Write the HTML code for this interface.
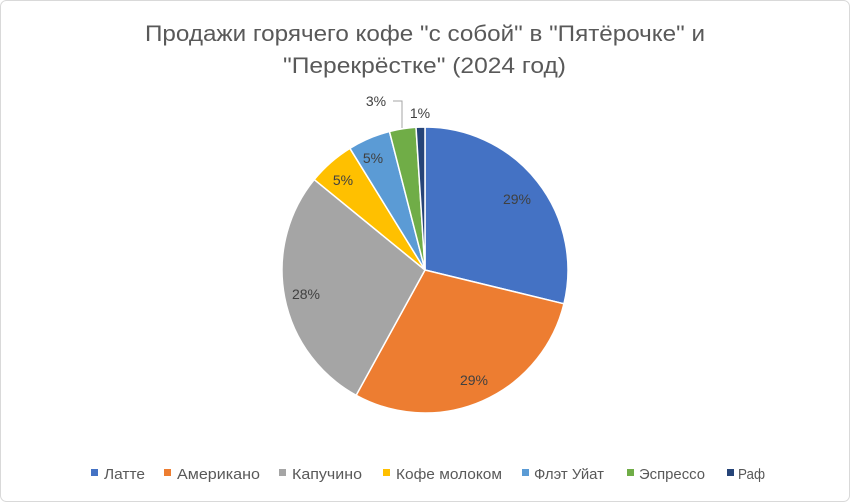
<!DOCTYPE html>
<html><head><meta charset="utf-8"><style>
body{margin:0;background:#fff;}
svg{display:block;font-family:"Liberation Sans","DejaVu Sans",sans-serif;}
</style></head><body>
<svg id="s" width="850" height="502" viewBox="0 0 850 502">
<rect x="0.5" y="0.5" width="849" height="501" rx="6" fill="#fff" stroke="#d9d9d9"/>
<text x="145" y="41" font-size="22" fill="#595959" textLength="560" lengthAdjust="spacingAndGlyphs">Продажи горячего кофе "с собой" в "Пятёрочке" и</text>
<text x="283" y="73" font-size="22" fill="#595959" textLength="283" lengthAdjust="spacingAndGlyphs">"Перекрёстке"  (2024 год)</text>
<g id="pie"></g>
<polyline points="393,101 402,101 402,128" fill="none" stroke="#a6a6a6" stroke-width="1"/>
<g font-size="14" fill="#404040" text-anchor="middle">
<text x="517" y="204">29%</text>
<text x="474" y="385">29%</text>
<text x="306" y="299">28%</text>
<text x="343" y="185">5%</text>
<text x="373" y="163">5%</text>
<text x="376" y="106">3%</text>
<text x="420" y="118">1%</text>
</g>
<g font-size="15" fill="#595959">
<rect x="91" y="469" width="7" height="7" fill="#4472C4"/><text x="104" y="479" textLength="41" lengthAdjust="spacingAndGlyphs">Латте</text>
<rect x="164" y="469" width="7" height="7" fill="#ED7D31"/><text x="177" y="479" textLength="83" lengthAdjust="spacingAndGlyphs">Американо</text>
<rect x="279" y="469" width="7" height="7" fill="#A5A5A5"/><text x="292" y="479" textLength="70" lengthAdjust="spacingAndGlyphs">Капучино</text>
<rect x="383" y="469" width="7" height="7" fill="#FFC000"/><text x="396" y="479" textLength="106" lengthAdjust="spacingAndGlyphs">Кофе молоком</text>
<rect x="522" y="469" width="7" height="7" fill="#5B9BD5"/><text x="534" y="479" textLength="70" lengthAdjust="spacingAndGlyphs">Флэт Уйат</text>
<rect x="627" y="469" width="7" height="7" fill="#70AD47"/><text x="639" y="479" textLength="66" lengthAdjust="spacingAndGlyphs">Эспрессо</text>
<rect x="727" y="469" width="7" height="7" fill="#264478"/><text x="738" y="479" textLength="27" lengthAdjust="spacingAndGlyphs">Раф</text>
</g>
</svg>
<script>
var v=[28.8,29.2,27.9,5.3,4.8,3.0,1.0],c=["#4472C4","#ED7D31","#A5A5A5","#FFC000","#5B9BD5","#70AD47","#264478"];
var cx=425,cy=270,r=143,a=0,g=document.getElementById("pie"),h="";
function p(t){var q=t/100*2*Math.PI;return (cx+r*Math.sin(q)).toFixed(2)+","+(cy-r*Math.cos(q)).toFixed(2);}
for(var i=0;i<v.length;i++){var b=a+v[i];h+='<path d="M'+cx+','+cy+' L'+p(a)+' A'+r+','+r+' 0 '+(v[i]>50?1:0)+',1 '+p(b)+' Z" fill="'+c[i]+'" stroke="#fff" stroke-width="1.5"/>';a=b;}
g.innerHTML=h;
</script>
</body></html>
